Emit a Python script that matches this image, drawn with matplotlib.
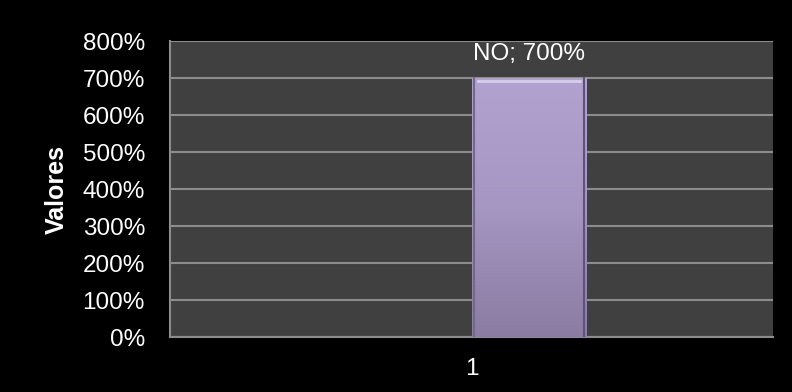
import numpy as np
import matplotlib.pyplot as plt
from matplotlib.colors import LinearSegmentedColormap

categories = ['1']
series_name = 'NO'
values = [700]  # percent
yticks = [0, 100, 200, 300, 400, 500, 600, 700, 800]

plt.rcParams['font.family'] = ['Liberation Sans', 'DejaVu Sans']

fig = plt.figure(figsize=(7.92, 3.92), dpi=100, facecolor='black')
ax = fig.add_axes([0.2146, 0.1403, 0.7620, 0.7551])
ax.set_facecolor('#404040')

x = np.arange(len(categories))
bar_w = 0.189
bars = ax.bar(x, values, width=bar_w, align='edge', color='#9e8fba',
              edgecolor='none', zorder=3)

# vertical shading on the bar
cmap = LinearSegmentedColormap.from_list('bar', ['#8a7ca2', '#a596c2', '#b2a2d0'])
grad = np.linspace(0, 1, 256).reshape(-1, 1)
for b in bars:
    x0, w, h = b.get_x(), b.get_width(), b.get_height()
    ax.imshow(grad, cmap=cmap, origin='lower', aspect='auto',
              extent=(x0, x0 + w, 0, h), zorder=3.5)
    # bevel highlights
    ax.plot([x0 + 0.01, x0 + w - 0.01], [h - 7, h - 7], color='#d8ccee', lw=2, zorder=4)
    ax.plot([x0 + 0.003, x0 + 0.003], [0, h], color='#74688c', lw=1.5, zorder=4)
    ax.plot([x0 + w - 0.003, x0 + w - 0.003], [0, h], color='#5e5478', lw=1.5, zorder=4)
    ax.text(x0 + w / 2, h + 65, f'{series_name}; {h:.0f}%', ha='center',
            va='center', color='white', fontsize=17.5, zorder=5)

ax.set_xlim(-0.5, 0.5)
ax.set_ylim(0, 800)
ax.set_yticks(yticks)
ax.set_yticklabels([f'{t}%' for t in yticks])
ax.set_xticks(x)
ax.set_xticklabels(categories)
ax.yaxis.grid(True, color='#8c8c8c', lw=1.5, zorder=1)
ax.set_axisbelow(True)
for s in ['top', 'right']:
    ax.spines[s].set_visible(False)
ax.spines['left'].set_color('#8c8c8c')
ax.spines['bottom'].set_color('#8c8c8c')
ax.spines['left'].set_linewidth(1.5)
ax.spines['bottom'].set_linewidth(1.5)
ax.tick_params(colors='white', labelsize=17.5, length=0)
ax.tick_params(axis='y', pad=18)
ax.tick_params(axis='x', pad=15)
ax.set_ylabel('Valores', color='white', fontsize=18, fontweight='bold', labelpad=10)

fig.savefig('out.png', dpi=100, facecolor='black')
